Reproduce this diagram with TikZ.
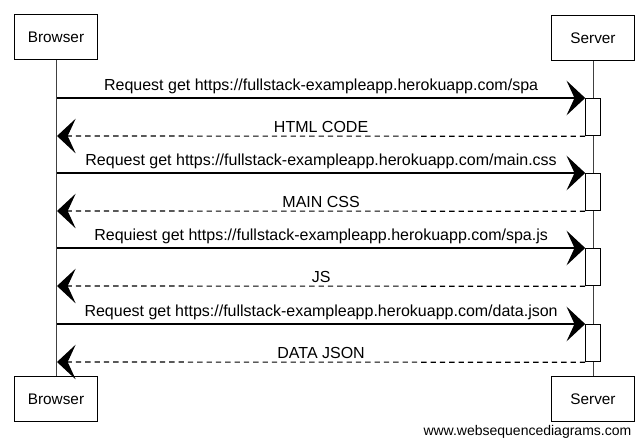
\documentclass[tikz,border=0pt]{standalone}
\usepackage{fontspec}
\setmainfont{Liberation Sans}
\usepackage{tikz}
\usetikzlibrary{arrows.meta,positioning,calc}
\tikzstyle{actor} = [draw, thick, minimum width=62pt, minimum height=34pt, inner sep=0pt, font=\fontsize{11.5}{13}\selectfont]
\tikzstyle{lifeline} = [draw=black!75, line width=0.6pt]
\tikzstyle{activation} = [draw, line width=0.7pt, fill=white, minimum width=11pt, minimum height=28pt, inner sep=0pt, anchor=north]
\tikzstyle{request} = [line width=0.9pt, -{Stealth[length=14pt, width=26pt, inset=6pt]}]
\tikzstyle{reply} = [line width=0.85pt, dash pattern=on 4pt off 3pt, -{Stealth[length=14pt, width=26pt, inset=6pt]}]
\tikzstyle{msg} = [above, inner sep=2.5pt, font=\fontsize{12}{14}\selectfont]

\begin{document}
\begin{tikzpicture}[x=0.75pt,y=-0.75pt]
\useasboundingbox (0,0) rectangle (644,446);
%actors
\node[actor] (browser) at (56,37) {Browser};
\node[actor] (server) at (593,38) {Server};
\node[actor] (browserb) at (56,399) {Browser};
\node[actor] (serverb) at (593,399) {Server};
\draw[lifeline] (browser) -- (browserb);
\draw[lifeline] (server) -- (serverb);

%activations on the server
\node[activation] (act1) at (593,98) {};
\node[activation] (act2) at (593,173) {};
\node[activation] (act3) at (593,248) {};
\node[activation] (act4) at (593,324) {};

%points on the browser lifeline
\coordinate (b1) at (57,98);
\coordinate (b2) at (57,136);
\coordinate (b3) at (57,173);
\coordinate (b4) at (57,211);
\coordinate (b5) at (57,248);
\coordinate (b6) at (57,286);
\coordinate (b7) at (57,324);
\coordinate (b8) at (57,362);

\draw[request] (b1) -- (act1.north west)
    node[msg, midway] (m1) {Request get https://fullstack-exampleapp.herokuapp.com/spa};
\draw[reply] (act1.south west) -- (b2)
    node[msg, midway] (m2) {HTML CODE};
\draw[request] (b3) -- (act2.north west)
    node[msg, midway] (m3) {Request get https://fullstack-exampleapp.herokuapp.com/main.css};
\draw[reply] (act2.south west) -- (b4)
    node[msg, midway] (m4) {MAIN CSS};
\draw[request] (b5) -- (act3.north west)
    node[msg, midway] (m5) {Requiest get https://fullstack-exampleapp.herokuapp.com/spa.js};
\draw[reply] (act3.south west) -- (b6)
    node[msg, midway] (m6) {JS};
\draw[request] (b7) -- (act4.north west)
    node[msg, midway] (m7) {Request get https://fullstack-exampleapp.herokuapp.com/data.json};
\draw[reply] (act4.south west) -- (b8)
    node[msg, midway] (m8) {DATA JSON};

%footer
\node[anchor=east, font=\fontsize{10.5}{12}\selectfont] (credit) at (636,432) {www.websequencediagrams.com};
\end{tikzpicture}
\end{document}
